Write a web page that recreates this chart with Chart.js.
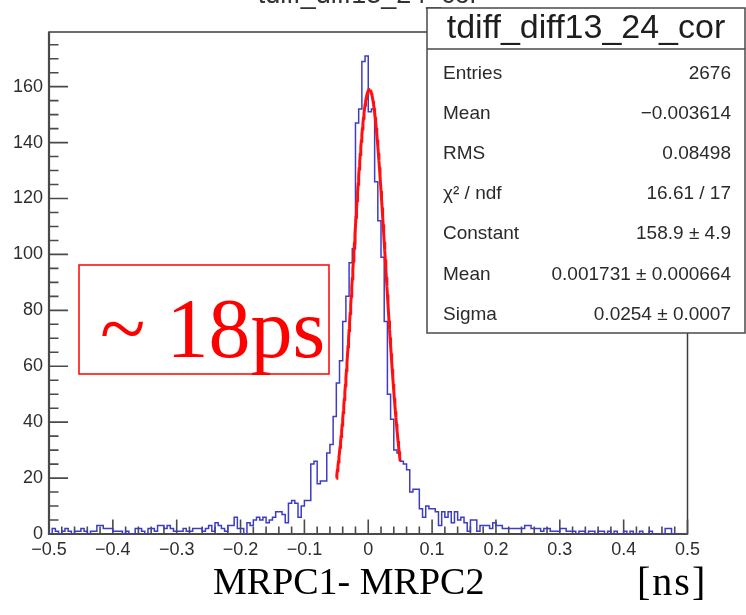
<!DOCTYPE html>
<html>
<head>
<meta charset="utf-8">
<script src="https://cdn.jsdelivr.net/npm/chart.js@4/dist/chart.umd.min.js"></script>
<style>
  html, body { margin: 0; padding: 0; background: #fff; }
  canvas { display: block; }
</style>
</head>
<body>
<canvas id="c" width="746" height="615"></canvas>
<script>
// Histogram definition: 200 bins over [-0.5, 0.5] ns
const HIST_NAME = 'tdiff_diff13_24_cor';
const X_MIN = -0.5;
const X_MAX = 0.5;
const N_BINS = 200;
const Y_MAX = 179.55;

// Bin contents, left to right
const binCounts = [
  1, 0, 2, 1, 0, 1, 2, 1, 0, 1,
  1, 2, 1, 0, 1, 1, 3, 3, 2, 2,
  2, 1, 1, 1, 0, 1, 0, 0, 2, 2,
  1, 0, 2, 2, 1, 3, 3, 2, 3, 2,
  1, 1, 1, 2, 1, 1, 2, 2, 2, 1,
  2, 3, 1, 4, 3, 2, 1, 3, 3, 6,
  2, 2, 0, 4, 3, 5, 6, 5, 6, 4,
  5, 6, 8, 8, 7, 4, 11, 12, 11, 6,
  10, 12, 12, 25, 26, 18, 19, 19, 29, 32,
  42, 54, 62, 76, 85, 97, 102, 147, 152, 169,
  171, 151, 152, 126, 112, 99, 76, 50, 41, 30,
  29, 26, 25, 23, 15, 16, 16, 9, 6, 10,
  9, 9, 8, 3, 8, 6, 8, 4, 8, 5,
  6, 4, 1, 5, 5, 1, 3, 3, 3, 2,
  4, 3, 3, 2, 2, 2, 2, 2, 2, 2,
  3, 3, 2, 2, 2, 1, 2, 2, 1, 1,
  1, 2, 2, 1, 1, 1, 0, 1, 1, 0,
  1, 1, 0, 1, 1, 0, 1, 0, 1, 0,
  0, 1, 0, 1, 0, 0, 1, 0, 0, 1,
  0, 0, 0, 0, 2, 2, 0, 0, 0, 0
];

// Gaussian fit result
const FIT_CONSTANT = 158.9;
const FIT_MEAN = 0.001731;
const FIT_SIGMA = 0.0254;
const FIT_RANGE = [-0.05, 0.05];

// Axis tick labels
const xTickValues = [-0.5, -0.4, -0.3, -0.2, -0.1, 0, 0.1, 0.2, 0.3, 0.4, 0.5];
const xTickLabels = ['\u22120.5', '\u22120.4', '\u22120.3', '\u22120.2', '\u22120.1', '0', '0.1', '0.2', '0.3', '0.4', '0.5'];
const yTickValues = [0, 20, 40, 60, 80, 100, 120, 140, 160];
const yTickLabels = ['0', '20', '40', '60', '80', '100', '120', '140', '160'];

// Statistics box rows
const statLabels = ['Entries', 'Mean', 'RMS', '\u03C7\u00B2 / ndf', 'Constant', 'Mean', 'Sigma'];
const statValues = ['2676', '\u22120.003614', '0.08498', '16.61 / 17', '158.9 \u00B1 4.9', '0.001731 \u00B1 0.000664', '0.0254 \u00B1 0.0007'];

// Annotations
const resolutionNote = '~ 18ps';
const axisTitle = 'MRPC1- MRPC2';
const axisUnit = '[ns]';

// Step outline: one point per bin lower edge, plus the upper edge of the last bin
const binWidth = (X_MAX - X_MIN) / N_BINS;
const histPoints = binCounts.map((c, i) => ({ x: X_MIN + i * binWidth, y: c }));
histPoints.push({ x: X_MAX, y: binCounts[N_BINS - 1] });

// Fitted Gaussian over the fit range
const fitPoints = [];
const FIT_SAMPLES = 120;
for (let k = 0; k <= FIT_SAMPLES; k++) {
  const xv = FIT_RANGE[0] + (FIT_RANGE[1] - FIT_RANGE[0]) * k / FIT_SAMPLES;
  const z = (xv - FIT_MEAN) / FIT_SIGMA;
  fitPoints.push({ x: xv, y: FIT_CONSTANT * Math.exp(-0.5 * z * z) });
}

const SANS = '"Liberation Sans", Arial, Helvetica, sans-serif';
const SERIF = '"Liberation Serif", "Times New Roman", serif';

const rootStyle = {
  id: 'rootStyle',
  beforeDatasetsDraw(chart) {
    const { ctx, chartArea: a, scales: { x, y } } = chart;
    ctx.save();
    // frame
    ctx.strokeStyle = '#3c3c3c';
    ctx.lineWidth = 1.5;
    ctx.strokeRect(a.left, a.top, a.right - a.left, a.bottom - a.top);
    ctx.lineWidth = 2.2;
    ctx.strokeStyle = '#4a4a4a';
    ctx.beginPath();
    ctx.moveTo(a.left, a.top);
    ctx.lineTo(a.left, a.bottom);
    ctx.lineTo(a.right, a.bottom);
    ctx.stroke();
    // ticks drawn inward, ROOT style
    ctx.lineWidth = 1.6;
    ctx.beginPath();
    for (let k = 0; k <= 50; k++) {
      const px = x.getPixelForValue(X_MIN + k * 0.02);
      const len = k % 5 === 0 ? 14.5 : 7.5;
      ctx.moveTo(px, a.bottom);
      ctx.lineTo(px, a.bottom - len);
    }
    for (let v = 0; v <= y.max; v += 5) {
      const py = y.getPixelForValue(v);
      const len = v % 20 === 0 ? 19 : 9.5;
      ctx.moveTo(a.left, py);
      ctx.lineTo(a.left + len, py);
    }
    ctx.stroke();
    ctx.restore();
  },
  afterDraw(chart) {
    const { ctx, chartArea: a } = chart;
    ctx.save();

    // histogram title, mostly above the canvas edge
    ctx.fillStyle = '#333';
    ctx.font = '27px ' + SANS;
    ctx.textAlign = 'center';
    ctx.textBaseline = 'alphabetic';
    ctx.fillText(HIST_NAME, (a.left + a.right) / 2, 3);

    // statistics box
    const bx = 427, by = 8, bw = 318, bh = 325;
    ctx.fillStyle = '#fff';
    ctx.fillRect(bx, by, bw, bh);
    ctx.strokeStyle = '#4a4a4a';
    ctx.lineWidth = 1.5;
    ctx.strokeRect(bx, by, bw, bh);
    ctx.beginPath();
    ctx.moveTo(bx, 49);
    ctx.lineTo(bx + bw, 49);
    ctx.stroke();

    ctx.fillStyle = '#1e1e1e';
    ctx.font = '34px ' + SANS;
    ctx.textAlign = 'center';
    ctx.fillText(HIST_NAME, 586, 38);

    ctx.font = '19px ' + SANS;
    ctx.fillStyle = '#2a2a2a';
    statLabels.forEach((lab, i) => {
      const yy = 78.5 + i * 40.2;
      ctx.textAlign = 'left';
      ctx.fillText(lab, 443, yy);
      ctx.textAlign = 'right';
      ctx.fillText(statValues[i], 731, yy);
    });

    // resolution annotation
    ctx.strokeStyle = '#ff0000';
    ctx.lineWidth = 1.5;
    ctx.fillStyle = '#fff';
    ctx.fillRect(79, 265, 250, 109);
    ctx.strokeRect(79, 265, 250, 109);
    ctx.fillStyle = '#ff0000';
    ctx.font = '84px ' + SERIF;
    ctx.textAlign = 'left';
    ctx.fillText(resolutionNote, 100, 357);

    // axis title
    ctx.fillStyle = '#000';
    ctx.font = '38px ' + SERIF;
    ctx.fillText(axisTitle, 213, 594);
    ctx.font = '40px ' + SERIF;
    ctx.letterSpacing = '2px';
    ctx.fillText(axisUnit, 637, 595);

    ctx.restore();
  }
};

new Chart(document.getElementById('c'), {
  type: 'scatter',
  data: {
    datasets: [
      {
        label: HIST_NAME,
        data: histPoints,
        showLine: true,
        stepped: 'after',
        borderColor: '#3c3cc4',
        borderWidth: 1.5,
        pointRadius: 0,
        fill: false,
        order: 2
      },
      {
        label: 'gaus',
        data: fitPoints,
        showLine: true,
        borderColor: '#ff1010',
        borderWidth: 3,
        pointRadius: 0,
        tension: 0,
        fill: false,
        order: 1
      }
    ]
  },
  options: {
    responsive: false,
    animation: false,
    devicePixelRatio: 1,
    layout: { padding: { left: 0, right: 58.5, top: 32, bottom: 0 } },
    plugins: { legend: { display: false }, tooltip: { enabled: false }, title: { display: false } },
    scales: {
      x: {
        type: 'linear',
        min: X_MIN,
        max: X_MAX,
        grid: { display: false, drawTicks: false },
        border: { display: false },
        afterBuildTicks: s => { s.ticks = xTickValues.map(v => ({ value: v })); },
        afterFit: s => { s.height = 81; },
        ticks: {
          autoSkip: false,
          maxRotation: 0,
          padding: 5,
          color: '#2e2e2e',
          font: { family: SANS, size: 18 },
          callback: (v, i) => xTickLabels[i]
        }
      },
      y: {
        type: 'linear',
        min: 0,
        max: Y_MAX,
        grid: { display: false, drawTicks: false },
        border: { display: false },
        afterBuildTicks: s => { s.ticks = yTickValues.map(v => ({ value: v })); },
        afterFit: s => { s.width = 49; },
        ticks: {
          autoSkip: false,
          padding: 6,
          color: '#2e2e2e',
          font: { family: SANS, size: 18 },
          callback: (v, i) => yTickLabels[i]
        }
      }
    }
  },
  plugins: [rootStyle]
});
</script>
</body>
</html>
